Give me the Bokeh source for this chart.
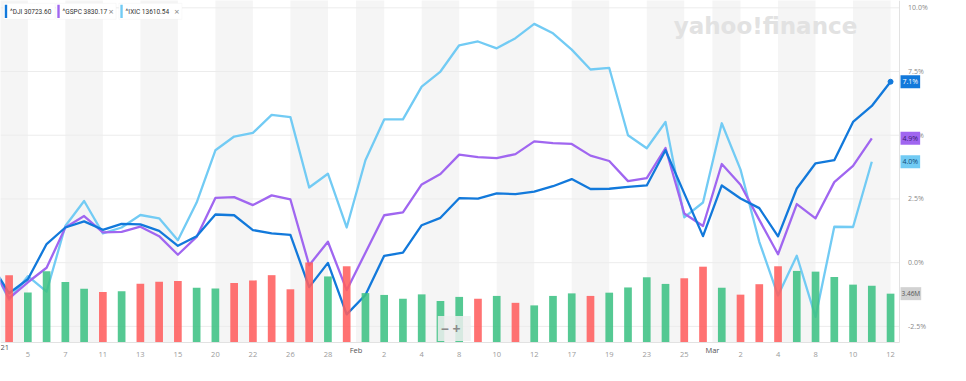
from bokeh.plotting import figure
from bokeh.models import Range1d, FixedTicker, PrintfTickFormatter, Label, BoxAnnotation
from bokeh.embed import file_html
from bokeh.resources import INLINE

# ---------------- data ----------------
dates = ["Jan 4", "Jan 5", "Jan 6", "Jan 7", "Jan 8", "Jan 11", "Jan 12", "Jan 13", "Jan 14", "Jan 15",
         "Jan 19", "Jan 20", "Jan 21", "Jan 22", "Jan 25", "Jan 26", "Jan 27", "Jan 28", "Jan 29",
         "Feb 1", "Feb 2", "Feb 3", "Feb 4", "Feb 5", "Feb 8", "Feb 9", "Feb 10", "Feb 11", "Feb 12",
         "Feb 16", "Feb 17", "Feb 18", "Feb 19", "Feb 22", "Feb 23", "Feb 24", "Feb 25", "Feb 26",
         "Mar 1", "Mar 2", "Mar 3", "Mar 4", "Mar 5", "Mar 8", "Mar 9", "Mar 10", "Mar 11", "Mar 12"]

# % change since Dec 31, 2020 close
dji = [-1.20, -0.65, 0.73, 1.38, 1.62, 1.29, 1.52, 1.50, 1.25, 0.66,
       1.04, 1.89, 1.86, 1.28, 1.15, 1.09, -0.96, -0.01, -2.03,
       -1.27, 0.27, 0.39, 1.47, 1.76, 2.53, 2.51, 2.72, 2.69, 2.79,
       3.00, 3.28, 2.89, 2.90, 2.97, 3.03, 4.41, 2.72, 1.04,
       3.03, 2.52, 2.14, 1.03, 2.91, 3.90, 4.02, 5.52, 6.15, 7.10]
gspc = [-1.40, -0.77, -0.20, 1.38, 1.83, 1.19, 1.21, 1.41, 1.04, 0.31,
        1.01, 2.54, 2.57, 2.26, 2.64, 2.48, -0.10, 0.82, -1.08,
        0.39, 1.86, 1.97, 3.07, 3.48, 4.24, 4.14, 4.10, 4.26, 4.76,
        4.69, 4.66, 4.20, 3.99, 3.20, 3.32, 4.50, 1.93, 1.44,
        3.87, 3.06, 1.68, 0.33, 2.30, 1.74, 3.16, 3.80, 4.88]
ixic = [-1.45, -0.53, -1.14, 1.44, 2.42, 1.15, 1.38, 1.87, 1.74, 0.88,
        2.36, 4.41, 4.95, 5.09, 5.80, 5.71, 2.95, 3.49, 1.38,
        4.02, 5.62, 5.62, 6.91, 7.50, 8.53, 8.68, 8.41, 8.81, 9.37,
        9.00, 8.36, 7.58, 7.64, 5.00, 4.49, 5.52, 1.78, 2.36,
        5.47, 3.65, 0.82, -1.29, 0.27, -2.13, 1.41, 1.40, 3.96]
volume_m = [4.77, 3.55, 5.04, 4.28, 3.81, 3.57, 3.63, 4.17, 4.30, 4.35,
            3.88, 3.83, 4.22, 4.40, 4.77, 3.77, 5.67, 4.68, 5.40,
            3.50, 3.37, 3.10, 3.41, 2.94, 3.23, 3.10, 3.30, 2.81, 2.63,
            3.30, 3.48, 3.30, 3.53, 3.90, 4.62, 4.15, 4.55, 5.37,
            3.88, 3.39, 4.13, 5.40, 5.07, 5.02, 4.64, 4.10, 4.02, 3.46]

day_ticks = ["Jan 5", "Jan 7", "Jan 11", "Jan 13", "Jan 15", "Jan 20", "Jan 22", "Jan 26", "Jan 28",
             "Feb 2", "Feb 4", "Feb 8", "Feb 10", "Feb 12", "Feb 17", "Feb 19", "Feb 23", "Feb 25",
             "Mar 2", "Mar 4", "Mar 8", "Mar 10", "Mar 12"]
month_marks = ["21", "Feb", "Mar"]
month_first = ["Jan 4", "Feb 1", "Mar 1"]
pct_ticks = [-2.5, 0.0, 2.5, 5.0, 7.5, 10.0]

legend_names = ["^DJI 30723.60", "^GSPC 3830.17", "^IXIC 13610.54"]
last_labels = ["7.1%", "4.9%", "4.0%"]
vol_label = "3.46M"

# ---------------- styling ----------------
C_DJI = "#1279db"
C_GSPC = "#a066f0"
C_IXIC = "#72cbf4"
C_UP = "#3dc184"
C_DOWN = "#ff5e5e"
BAND = "#f5f5f5"
FONT = "Open Sans"

# reference-pixel layout helpers (chart drawn on a 966x381 design grid)
PX_PER_DAY = 19.64
PX_PER_PCT = 67.8 / 2.5
PX_PER_MVOL = 52 / 3.46


def X(px):
    return (px - 9) / PX_PER_DAY


def Y(py):
    return (279 - py) / PX_PER_PCT


FRAME_R, FRAME_B = 941, 364

n = len(dates)
idx = list(range(n))
line_x_full = [-1] + idx
line_x_part = [-1] + idx[:len(gspc)]

p = figure(width=932, height=358, output_backend="svg", toolbar_location=None,
           x_range=Range1d(X(0), X(976)), y_range=Range1d(Y(381), Y(0)),
           x_axis_location="below", y_axis_location="right",
           min_border_left=0, min_border_top=0, min_border_right=0, min_border_bottom=0,
           background_fill_color="white", border_fill_color="white", outline_line_color=None)
p.extra_y_ranges = {"vol": Range1d((FRAME_B - 381) / PX_PER_MVOL, FRAME_B / PX_PER_MVOL)}

# alternating background bands between tick positions
tick_pos = sorted([dates.index(d) for d in day_ticks] + [dates.index(m) - 0.5 for m in month_first])
band_left = tick_pos[0::2]
band_right = tick_pos[1::2]
p.quad(left=band_left, right=band_right, bottom=Y(FRAME_B), top=Y(-5),
       fill_color=BAND, line_color=None)

# horizontal grid lines (limited to the plotting area)
p.segment(x0=X(0), x1=X(FRAME_R), y0=pct_ticks, y1=pct_ticks, line_color="#ececec", line_width=1)

# lines
p.line(line_x_part, [0] + ixic, color=C_IXIC, line_width=2.3, line_join="round")
p.line(line_x_part, [0] + gspc, color=C_GSPC, line_width=2.3, line_join="round")
p.line(line_x_full, [0] + dji, color=C_DJI, line_width=2.3, line_join="round")
p.scatter([idx[-1]], [dji[-1]], size=5, color=C_DJI)

# volume bars
prev = [0] + dji[:-1]
bar_colors = [C_UP if d >= q else C_DOWN for d, q in zip(dji, prev)]
p.vbar(x=idx, top=volume_m, width=0.41, bottom=0, y_range_name="vol",
       fill_color=bar_colors, line_color=None, fill_alpha=0.88)

# axes (drawn at fixed locations inside the canvas)
p.xgrid.visible = False
p.ygrid.visible = False

ya = p.yaxis[0]
ya.fixed_location = X(FRAME_R)
ya.bounds = (Y(FRAME_B), Y(0))
ya.ticker = FixedTicker(ticks=pct_ticks)
ya.formatter = PrintfTickFormatter(format="%.1f%%")
ya.major_label_text_font = FONT
ya.major_label_text_font_size = "7px"
ya.major_label_text_color = "#8a8a8a"
ya.axis_line_color = "#e2e2e2"
ya.major_tick_line_color = None
ya.minor_tick_line_color = None
ya.major_label_standoff = 3

xa = p.xaxis[0]
xa.fixed_location = Y(FRAME_B)
xa.bounds = (X(0), X(FRAME_R))
xt = [dates.index(d) for d in day_ticks]
xa.ticker = FixedTicker(ticks=xt)
xa.major_label_overrides = {t: d.split()[1] for t, d in zip(xt, day_ticks)}
xa.major_label_text_font = FONT
xa.major_label_text_font_size = "7.5px"
xa.major_label_text_color = "#9a9a9a"
xa.axis_line_color = "#e2e2e2"
xa.major_tick_line_color = None
xa.minor_tick_line_color = None
xa.major_label_standoff = 3

# month markers on the date axis
for m, f in zip(month_marks, month_first):
    pos = dates.index(f) - 0.5
    kw = dict(y=Y(FRAME_B + 3), text=m, text_baseline="top", text_font=FONT,
              text_font_size="7.5px", text_color="#555555")
    if pos < X(0):
        p.add_layout(Label(x=X(0), text_align="left", **kw))
    else:
        p.add_layout(Label(x=pos, text_align="center", **kw))

# watermark
p.add_layout(Label(x=X(705), y=Y(27), text="yahoo!finance", text_font="DejaVu Sans",
                   text_font_size="23px", text_font_style="bold", text_color="#e2e2e2",
                   text_baseline="alphabetic"))

# legend chips
chips = [(3, 57, C_DJI, legend_names[0], ""), (58, 121, C_GSPC, legend_names[1], "×"),
         (124, 190, C_IXIC, legend_names[2], "×")]
for l, r, c, t, xmark in chips:
    p.add_layout(BoxAnnotation(left=X(l), right=X(r), top=Y(3), bottom=Y(20),
                               fill_color="white", fill_alpha=1, line_color="#ececec", line_width=1))
    p.add_layout(BoxAnnotation(left=X(l + 1.5), right=X(l + 4), top=Y(4.5), bottom=Y(18.5),
                               fill_color=c, fill_alpha=1, line_color=None))
    p.add_layout(Label(x=X(l + 7), y=Y(12), text=t, text_baseline="middle", text_font="Roboto",
                       text_font_size="6.5px", text_color="#333333"))
    if xmark:
        p.add_layout(Label(x=X(r - 8), y=Y(12), text=xmark, text_baseline="middle", text_font=FONT,
                           text_font_size="9px", text_color="#888888"))

# last-value labels on the right
for v, t, bg, fg in [(dji[-1], last_labels[0], C_DJI, "white"),
                     (gspc[-1], last_labels[1], C_GSPC, "#3a1a70"),
                     (ixic[-1], last_labels[2], C_IXIC, "#134a77")]:
    p.add_layout(Label(x=X(FRAME_R + 1.5), y=v, text=t, text_baseline="middle", text_font=FONT,
                       text_font_size="7px", text_color=fg, background_fill_color=bg,
                       padding=(2, 2)))
p.add_layout(Label(x=X(FRAME_R + 1.5), y=volume_m[-1], y_range_name="vol", text=vol_label,
                   text_baseline="middle", text_font=FONT, text_font_size="6.5px",
                   text_color="#555555", background_fill_color="#d2d2d2", padding=(1, 2)))

# zoom control
p.add_layout(Label(x=X(458), y=Y(349), text="−   +", text_baseline="middle", text_font=FONT,
                   text_font_size="14px", text_font_style="bold", text_color="#8a8a8a",
                   background_fill_color="#efefef", background_fill_alpha=0.85, padding=3))

open("out.html", "w").write(file_html(p, INLINE))
